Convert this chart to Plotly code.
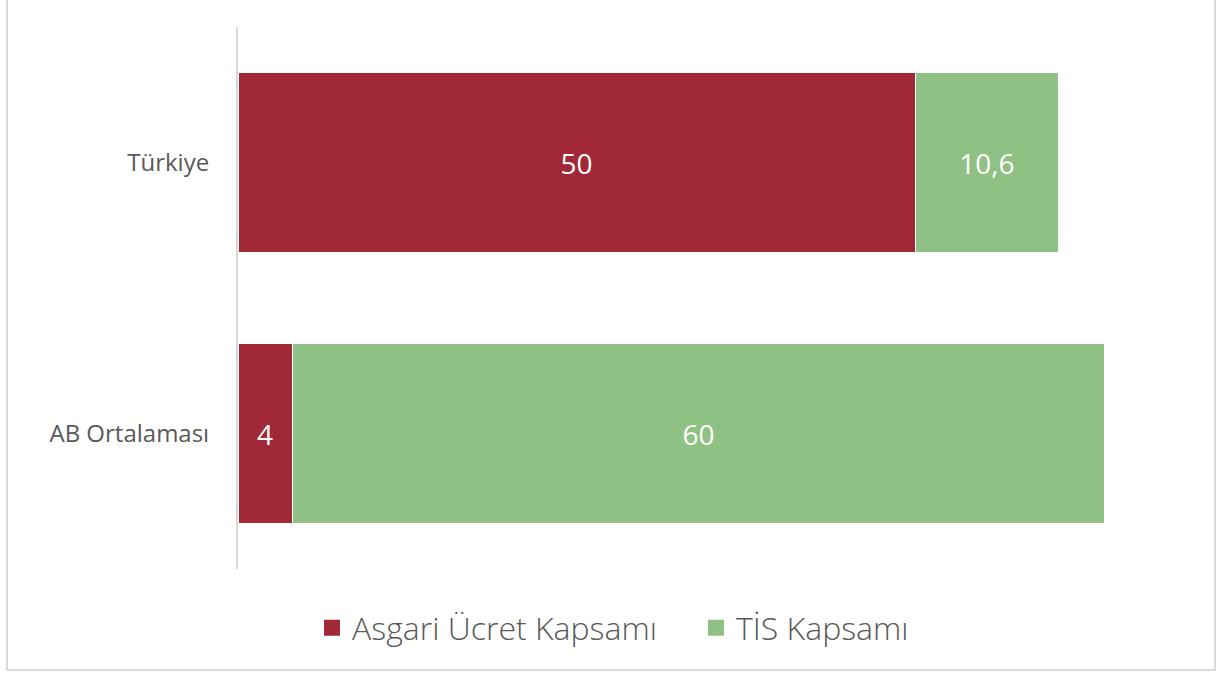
import plotly.graph_objects as go

categories = ["Türkiye", "AB Ortalaması"]
asgari = [50, 4]
tis = [10.6, 60]
series_names = ["Asgari Ücret Kapsamı", "TİS Kapsamı"]
colors = ["#A12836", "#8FC184"]

def fmt(v):
    s = f"{v:g}"
    return s.replace(".", ",")

W, H = 1218, 675
L, R, T, B = 238, 32, 27, 106
pw, ph = W - L - R, H - T - B

fig = go.Figure()
for name, vals, col in zip(series_names, [asgari, tis], colors):
    fig.add_trace(go.Bar(
        y=categories, x=vals, name=name, orientation="h",
        marker=dict(color=col, line=dict(color="white", width=1)),
        text=[fmt(v) for v in vals], textposition="inside",
        insidetextanchor="middle",
        textfont=dict(color="white", size=28, family="Open Sans"),
        width=0.664, showlegend=False,
    ))
# legend entries with larger square markers
for name, col in zip(series_names, colors):
    fig.add_trace(go.Scatter(
        x=[None], y=[None], mode="markers", name=name,
        marker=dict(symbol="square", size=20, color=col),
        showlegend=True,
    ))

def px_x(p):
    return (p - L) / pw

def px_y(p):
    return (H - B - p) / ph

fig.add_shape(type="rect", xref="paper", yref="paper",
              x0=px_x(7), x1=px_x(1215), y0=px_y(670), y1=px_y(-5),
              line=dict(color="#d9d9d9", width=2), layer="below")

fig.update_layout(
    width=W, height=H, barmode="stack",
    margin=dict(l=L, r=R, t=T, b=B),
    plot_bgcolor="white", paper_bgcolor="white",
    font=dict(family="Open Sans", color="#595959"),
    showlegend=True,
    legend=dict(orientation="h", xref="container", yref="container",
                x=312 / W, xanchor="left", y=1 - 628 / H, yanchor="middle",
                font=dict(size=32, color="#595959", family="Open Sans", weight=300),
                itemwidth=30, traceorder="normal", itemsizing="trace",
                entrywidth=339, entrywidthmode="pixels"),
    xaxis=dict(range=[0, 70], showgrid=False, showticklabels=False,
               zeroline=False, showline=False),
    yaxis=dict(autorange="reversed", showline=True, linecolor="#d9d9d9",
               linewidth=2, ticks="", ticklabelstandoff=22,
               tickfont=dict(size=24, color="#595959", family="Open Sans")),
    bargap=0.336,
)

fig.write_html("out.html", config={"displayModeBar": False},
               post_script="document.body.style.margin='0';")
